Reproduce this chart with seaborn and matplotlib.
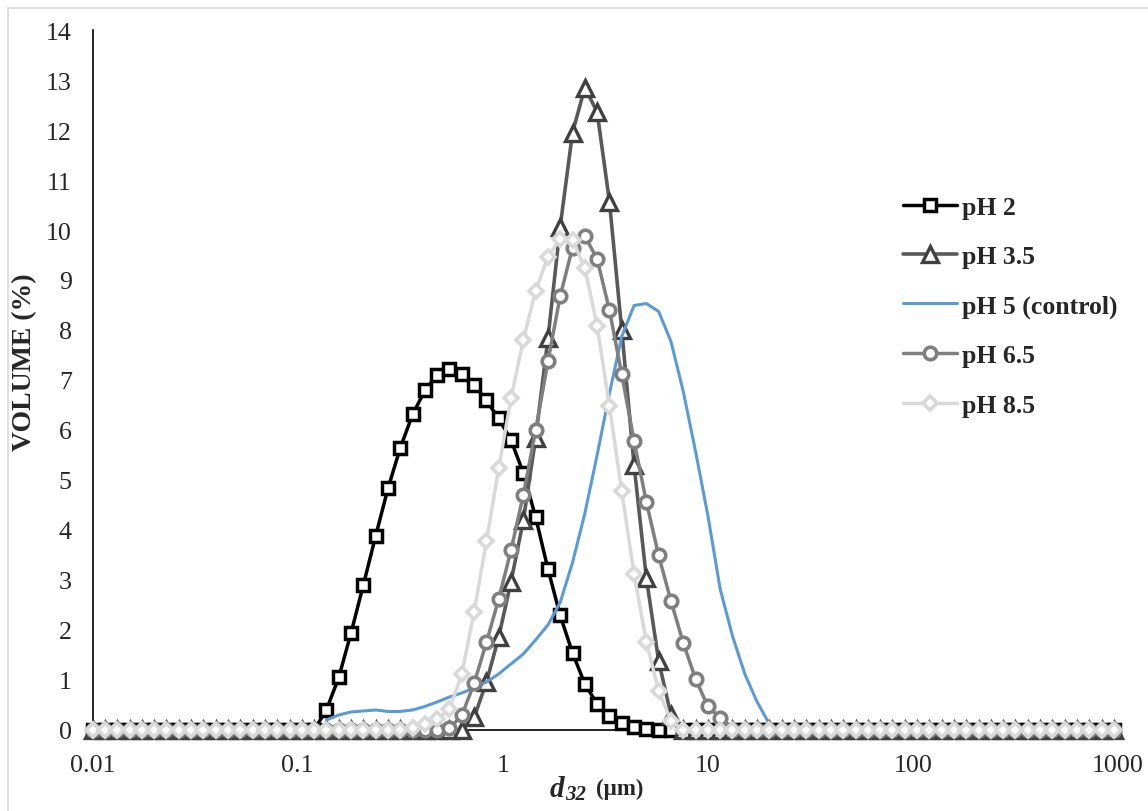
import numpy as np
import seaborn as sns
import matplotlib.pyplot as plt
from matplotlib.patches import Rectangle
from matplotlib.ticker import NullLocator

sns.set_theme(style="white")
plt.rcParams['font.family'] = ['Liberation Serif', 'DejaVu Serif']

# particle size classes (um)
sizes = [0.01, 0.01148, 0.01318, 0.01514, 0.01738, 0.01995, 0.02291, 0.0263, 0.0302, 0.03467,
         0.03981, 0.04571, 0.05248, 0.06026, 0.06918, 0.07943, 0.0912, 0.1047, 0.1202, 0.138,
         0.1585, 0.182, 0.2089, 0.2399, 0.2754, 0.3162, 0.3631, 0.4169, 0.4786, 0.5495,
         0.631, 0.7244, 0.8318, 0.955, 1.096, 1.259, 1.445, 1.66, 1.905, 2.188,
         2.512, 2.884, 3.311, 3.802, 4.365, 5.012, 5.754, 6.607, 7.586, 8.71,
         10.0, 11.48, 13.18, 15.14, 17.38, 19.95, 22.91, 26.3, 30.2, 34.67,
         39.81, 45.71, 52.48, 60.26, 69.18, 79.43, 91.2, 104.7, 120.2, 138.0,
         158.5, 182.0, 208.9, 239.9, 275.4, 316.2, 363.1, 416.9, 478.6, 549.5,
         631.0, 724.4, 831.8, 955.0]

# volume (%)
ph2 = [0, 0, 0, 0, 0, 0, 0, 0, 0, 0,
       0, 0, 0, 0, 0, 0, 0, 0, 0, 0.4,
       1.05, 1.94, 2.9, 3.88, 4.83, 5.64, 6.31, 6.79, 7.1, 7.21,
       7.12, 6.9, 6.59, 6.23, 5.8, 5.14, 4.26, 3.22, 2.29, 1.54,
       0.92, 0.52, 0.28, 0.13, 0.06, 0.02, 0, 0, 0, 0,
       0, 0, 0, 0, 0, 0, 0, 0, 0, 0,
       0, 0, 0, 0, 0, 0, 0, 0, 0, 0,
       0, 0, 0, 0, 0, 0, 0, 0, 0, 0,
       0, 0, 0, 0]

ph35 = [0, 0, 0, 0, 0, 0, 0, 0, 0, 0,
        0, 0, 0, 0, 0, 0, 0, 0, 0, 0,
        0, 0, 0, 0, 0, 0, 0, 0, 0, 0,
        0, 0.25, 0.95, 1.86, 2.96, 4.19, 5.83, 7.83, 10.07, 11.95,
        12.85, 12.36, 10.57, 8.0, 5.3, 3.04, 1.38, 0.3, 0, 0,
        0, 0, 0, 0, 0, 0, 0, 0, 0, 0,
        0, 0, 0, 0, 0, 0, 0, 0, 0, 0,
        0, 0, 0, 0, 0, 0, 0, 0, 0, 0,
        0, 0, 0, 0]

nan = np.nan
ph5 = [nan, nan, nan, nan, nan, nan, nan, nan, nan, nan,
       nan, nan, nan, nan, nan, nan, nan, nan, nan, 0.2,
       0.3, 0.36, 0.38, 0.4, 0.37, 0.37, 0.4, 0.47, 0.56, 0.66,
       0.74, 0.84, 0.96, 1.12, 1.32, 1.52, 1.8, 2.1, 2.55, 3.35,
       4.33, 5.5, 6.73, 7.87, 8.49, 8.53, 8.37, 7.77, 6.77, 5.57,
       4.29, 2.82, 1.88, 1.12, 0.56, 0.12, nan, nan, nan, nan,
       nan, nan, nan, nan, nan, nan, nan, nan, nan, nan,
       nan, nan, nan, nan, nan, nan, nan, nan, nan, nan,
       nan, nan, nan, nan]

ph65 = [0, 0, 0, 0, 0, 0, 0, 0, 0, 0,
        0, 0, 0, 0, 0, 0, 0, 0, 0, 0,
        0, 0, 0, 0, 0, 0, 0, 0, 0, 0.03,
        0.29, 0.93, 1.75, 2.62, 3.59, 4.7, 5.99, 7.37, 8.68, 9.65,
        9.88, 9.42, 8.4, 7.11, 5.78, 4.56, 3.49, 2.58, 1.74, 1.02,
        0.47, 0.24, 0, 0, 0, 0, 0, 0, 0, 0,
        0, 0, 0, 0, 0, 0, 0, 0, 0, 0,
        0, 0, 0, 0, 0, 0, 0, 0, 0, 0,
        0, 0, 0, 0]

ph85 = [0, 0, 0, 0, 0, 0, 0, 0, 0, 0,
        0, 0, 0, 0, 0, 0, 0, 0, 0, 0,
        0, 0, 0, 0, 0, 0, 0.04, 0.12, 0.22, 0.42,
        1.12, 2.36, 3.77, 5.23, 6.63, 7.8, 8.78, 9.46, 9.83, 9.8,
        9.24, 8.08, 6.48, 4.77, 3.12, 1.76, 0.78, 0.18, 0, 0,
        0, 0, 0, 0, 0, 0, 0, 0, 0, 0,
        0, 0, 0, 0, 0, 0, 0, 0, 0, 0,
        0, 0, 0, 0, 0, 0, 0, 0, 0, 0,
        0, 0, 0, 0]

labels = ['pH 2', 'pH 3.5', 'pH 5 (control)', 'pH 6.5', 'pH 8.5']
xticks = [0.01, 0.1, 1, 10, 100, 1000]
xticklabels = ['0.01', '0.1', '1', '10', '100', '1000']

styles = [
    dict(color='black', marker='s', mec='black', ms=8, mew=2.5, lw=2.5),
    dict(color='#595959', marker='^', mec='#404040', ms=11.5, mew=2.4, lw=2.6),
    dict(color='#5B9BD5', lw=2.2),
    dict(color='#7F7F7F', marker='o', mec='#7F7F7F', ms=9, mew=2.6, lw=2.5),
    dict(color='#D9D9D9', marker='D', mec='#D9D9D9', ms=7.5, mew=2.6, lw=2.5),
]

fig = plt.figure(figsize=(11.48, 8.12), dpi=100)
ax = fig.add_axes([0.0807, 0.0998, 0.8932, 0.862])
ax.set_xscale('log')

for name, vals, st in zip(labels, [ph2, ph35, ph5, ph65, ph85], styles):
    if 'marker' in st:
        st = dict(st, mfc='white')
    sns.lineplot(x=sizes, y=vals, ax=ax, label=name, clip_on=False, zorder=3, **st)

ax.set_xlim(0.01, 1000)
ax.set_ylim(0, 14)
ax.set_xticks(xticks)
ax.set_xticklabels(xticklabels)
ax.xaxis.set_minor_locator(NullLocator())
ax.set_yticks(range(0, 15))
ax.tick_params(axis='x', length=0, pad=17, labelsize=18.7)
ax.tick_params(axis='y', length=0, pad=15, labelsize=18.7)

for s in ['top', 'right']:
    ax.spines[s].set_visible(False)
for s in ['left', 'bottom']:
    ax.spines[s].set_color('black')
    ax.spines[s].set_linewidth(1.2)

ax.set_ylabel('VOLUME (%)', fontsize=20, fontweight='bold')
ax.yaxis.set_label_coords(-0.054, 0.527)

# x label: italic d with subscript 32, then the unit
ax.set_xlabel('')
fig.text(550 / 1148, 15 / 812, 'd', fontsize=21, fontstyle='italic', fontweight='bold', va='baseline')
fig.text(565 / 1148, 12 / 812, '32', fontsize=15, fontstyle='italic', fontweight='bold', va='baseline')
fig.text(596 / 1148, 17 / 812, '(µm)', fontsize=16.5, fontweight='bold', va='baseline')

ax.legend(loc='upper left', bbox_to_anchor=(0.7866, 0.758), bbox_transform=fig.transFigure,
          frameon=False, prop=dict(weight='bold', size=18.5), handlelength=2.1,
          handletextpad=0.2, labelspacing=1.03, borderpad=0, borderaxespad=0)

# light chart-area border
fig.patches.append(Rectangle((8 / 1148, -0.1), 1.2, 1 - 9 / 812 + 0.1, transform=fig.transFigure,
                             fill=False, ec='#D9D9D9', lw=1.2))

fig.savefig('out.png', dpi=100)
